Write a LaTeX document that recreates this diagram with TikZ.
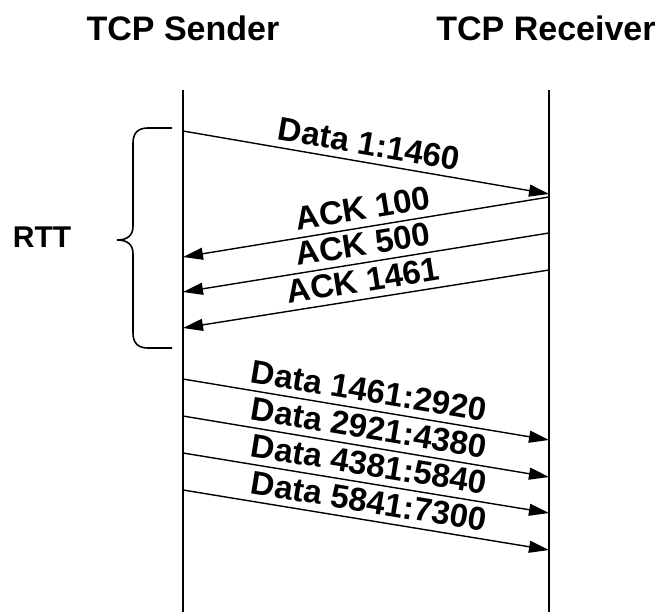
\documentclass[tikz,border=0pt]{standalone}
\usepackage{fontspec}
\setmainfont{Liberation Sans}
\usetikzlibrary{arrows.meta}

\begin{document}
\begin{tikzpicture}[x=1pt, y=-1pt,
  lifeline/.style={line width=1.9pt},
  msg/.style={line width=1.4pt, -{Triangle[length=20pt, width=12pt]}},
  msglabel/.style={font=\bfseries\fontsize{33}{33}\selectfont, sloped, above, inner sep=6.5pt},
  title/.style={font=\bfseries\fontsize{34}{34}\selectfont, inner sep=0pt}]
  \useasboundingbox (0,0) rectangle (663,612);

  \node[title] (sender) at (183,28) {TCP Sender};
  \node[title] (receiver) at (546,28) {TCP Receiver};

  % lifelines
  \coordinate (stop) at (183,90);
  \coordinate (sbot) at (183,612);
  \coordinate (rtop) at (549,90);
  \coordinate (rbot) at (549,612);
  \draw[lifeline] (stop) -- (sbot);
  \draw[lifeline] (rtop) -- (rbot);

  % first segment and the acks
  \coordinate (d1s) at (183,131);
  \coordinate (d1r) at (549,194);
  \draw[msg] (d1s) -- node[msglabel] {Data 1:1460} (d1r);

  \coordinate (a1r) at (549,197);
  \coordinate (a1s) at (183,257);
  \draw[msg] (a1r) -- node[msglabel] {ACK 100} (a1s);

  \coordinate (a2r) at (549,233);
  \coordinate (a2s) at (183,292);
  \draw[msg] (a2r) -- node[msglabel] {ACK 500} (a2s);

  \coordinate (a3r) at (549,270);
  \coordinate (a3s) at (183,328);
  \draw[msg] (a3r) -- node[msglabel] {ACK 1461} (a3s);

  % rtt brace
  \draw[line width=1.6pt] (172,128) -- (148,128) .. controls (138,128) and (133,133) .. (133,143)
    -- (133,226) .. controls (133,235) and (128,240) .. (117,240)
    .. controls (128,240) and (133,245) .. (133,254)
    -- (133,333) .. controls (133,343) and (138,348) .. (148,348) -- (172,348);
  \node[font=\bfseries\fontsize{30}{30}\selectfont, inner sep=0pt] (rtt) at (42,237) {RTT};

  % window of segments
  \coordinate (d2s) at (183,379);
  \coordinate (d2r) at (549,440);
  \draw[msg] (d2s) -- node[msglabel] {Data 1461:2920} (d2r);

  \coordinate (d3s) at (183,416);
  \coordinate (d3r) at (549,477);
  \draw[msg] (d3s) -- node[msglabel] {Data 2921:4380} (d3r);

  \coordinate (d4s) at (183,453);
  \coordinate (d4r) at (549,513);
  \draw[msg] (d4s) -- node[msglabel] {Data 4381:5840} (d4r);

  \coordinate (d5s) at (183,490);
  \coordinate (d5r) at (549,550);
  \draw[msg] (d5s) -- node[msglabel] {Data 5841:7300} (d5r);
\end{tikzpicture}
\end{document}
